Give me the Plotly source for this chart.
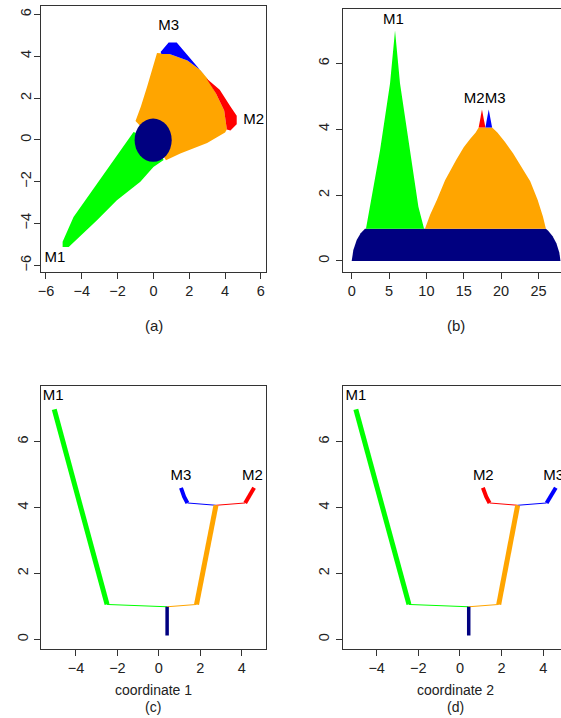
import plotly.graph_objects as go

# ---------------- data ----------------
GREEN, ORANGE, BLUE, RED, NAVY = "#00FF00", "#FFA500", "#0000FF", "#FF0000", "#000080"

# panel (a): regions in the plane
a_green_x = [-5.07, -5.07, -4.46, -3.15, -1.85, -1.11, 0.0, 0.57, 0.0, -0.73, -2.04, -3.15, -4.73]
a_green_y = [-5.12, -4.88, -3.69, -2.09, -0.49, 0.38, 0.0, -0.97, -1.3, -2.01, -2.89, -3.85, -5.12]
a_orange_x = [-1.0, -0.7, -0.35, 0.0, 0.2, 0.9, 1.9, 2.6, 3.0, 3.5, 3.95, 4.1, 4.0, 3.0, 1.5, 0.7, 0.0]
a_orange_y = [0.9, 1.6, 2.55, 3.65, 4.15, 4.1, 3.8, 3.35, 2.95, 2.2, 1.4, 0.5, 0.35, -0.15, -0.65, -0.98, 0.0]
a_blue_x = [0.4, 0.85, 1.3, 1.8, 2.45, 3.0, 2.6, 1.9, 1.4, 0.9, 0.45]
a_blue_y = [4.2, 4.65, 4.65, 4.15, 3.55, 2.95, 3.35, 3.8, 3.95, 4.1, 4.1]
a_red_x = [2.95, 3.7, 4.3, 4.65, 4.65, 4.3, 4.1, 3.95, 3.5]
a_red_y = [2.95, 2.4, 1.6, 1.15, 0.75, 0.45, 0.5, 1.4, 2.2]
a_disk = [-1.05, -1.05, 1.02, 1.02]   # x0, y0, x1, y1
a_labels = ["M1", "M2", "M3"]
a_label_x = [-5.5, 5.6, 0.85]
a_label_y = [-5.65, 0.95, 5.45]

# panel (b): tree mountains
b_navy_x = [0.0, 0.22, 0.67, 1.2, 1.78, 26.0, 26.3, 26.9, 27.4, 27.8, 27.95]
b_navy_y = [0.0, 0.33, 0.64, 0.84, 0.98, 0.98, 0.92, 0.75, 0.54, 0.25, 0.0]
b_green_x = [1.91, 2.46, 3.8, 5.13, 5.8, 6.47, 7.81, 8.93, 9.69]
b_green_y = [0.98, 1.65, 3.37, 5.39, 7.0, 5.39, 3.37, 1.65, 0.98]
b_orange_x = [9.81, 10.5, 11.4, 12.5, 14.0, 15.0, 15.85, 16.6, 17.0, 18.8, 19.5, 20.5, 21.6, 22.7, 23.9, 24.9, 25.6, 26.0]
b_orange_y = [0.98, 1.4, 1.85, 2.45, 3.07, 3.45, 3.7, 3.9, 4.05, 4.05, 3.9, 3.62, 3.27, 2.88, 2.42, 1.85, 1.35, 0.98]
b_red_x = [17.0, 17.44, 17.9]
b_red_y = [4.05, 4.6, 4.05]
b_blue_x = [17.9, 18.34, 18.8]
b_blue_y = [4.05, 4.6, 4.05]
b_labels = ["M1", "M2", "M3"]
b_label_x = [5.6, 16.4, 19.2]
b_label_y = [7.32, 4.9, 4.9]

# panels (c) and (d): tree drawn against a coordinate
c_green_x, c_green_y = [-5.05, -2.5], [6.98, 1.06]
c_greenlink_x, c_greenlink_y = [-2.5, 0.4], [1.06, 0.99]
c_navy_x, c_navy_y = [0.4, 0.4], [0.12, 0.99]
c_orangelink_x, c_orangelink_y = [0.4, 1.82], [0.99, 1.06]
c_orange_x, c_orange_y = [1.82, 2.76], [1.06, 4.07]
c_bluelink_x, c_bluelink_y = [2.76, 1.38], [4.07, 4.14]
c_blue_x, c_blue_y = [1.38, 1.22, 1.07], [4.14, 4.33, 4.6]
c_redlink_x, c_redlink_y = [2.76, 4.17], [4.07, 4.14]
c_red_x, c_red_y = [4.17, 4.6], [4.14, 4.6]
c_labels = ["M1", "M3", "M2"]
c_label_x = [-5.1, 1.07, 4.52]
c_label_y = [7.37, 4.96, 4.96]

d_green_x, d_green_y = [-5.0, -2.45], [6.98, 1.06]
d_greenlink_x, d_greenlink_y = [-2.45, 0.42], [1.06, 0.99]
d_navy_x, d_navy_y = [0.42, 0.42], [0.12, 0.99]
d_orangelink_x, d_orangelink_y = [0.42, 1.86], [0.99, 1.06]
d_orange_x, d_orange_y = [1.86, 2.77], [1.06, 4.07]
d_redlink_x, d_redlink_y = [2.77, 1.42], [4.07, 4.14]
d_red_x, d_red_y = [1.42, 1.26, 1.1], [4.14, 4.33, 4.6]
d_bluelink_x, d_bluelink_y = [2.77, 4.16], [4.07, 4.14]
d_blue_x, d_blue_y = [4.16, 4.6], [4.14, 4.6]
d_labels = ["M1", "M2", "M3"]
d_label_x = [-5.0, 1.12, 4.5]
d_label_y = [7.37, 4.96, 4.96]

a_xticks = [-6, -4, -2, 0, 2, 4, 6]
a_yticks = [-6, -4, -2, 0, 2, 4, 6]
b_xticks = [0, 5, 10, 15, 20, 25]
b_yticks = [0, 2, 4, 6]
cd_xticks = [-4, -2, 0, 2, 4]
cd_yticks = [0, 2, 4, 6]

# ---------------- figure ----------------
FONT = "Liberation Sans, Arial, Helvetica, sans-serif"
fig = go.Figure()


def poly(x, y, color, xa, ya):
    fig.add_trace(go.Scatter(x=x, y=y, fill="toself", fillcolor=color, mode="lines",
                             line=dict(width=0, color=color), hoverinfo="skip",
                             xaxis=xa, yaxis=ya, showlegend=False))


def seg(x, y, color, width, xa, ya):
    fig.add_trace(go.Scatter(x=x, y=y, mode="lines", line=dict(width=width, color=color),
                             hoverinfo="skip", xaxis=xa, yaxis=ya, showlegend=False))


def labels(txt, x, y, xa, ya):
    fig.add_trace(go.Scatter(x=x, y=y, text=txt, mode="text", textposition="middle center",
                             textfont=dict(family=FONT, size=15, color="black"),
                             hoverinfo="skip", xaxis=xa, yaxis=ya, showlegend=False,
                             cliponaxis=False))


# (a)
poly(a_green_x, a_green_y, GREEN, "x", "y")
poly(a_orange_x, a_orange_y, ORANGE, "x", "y")
poly(a_blue_x, a_blue_y, BLUE, "x", "y")
poly(a_red_x, a_red_y, RED, "x", "y")
fig.add_shape(type="circle", xref="x", yref="y", x0=a_disk[0], y0=a_disk[1],
              x1=a_disk[2], y1=a_disk[3], fillcolor=NAVY, line=dict(width=0), layer="above")
labels(a_labels, a_label_x, a_label_y, "x", "y")

# (b)
poly(b_navy_x, b_navy_y, NAVY, "x2", "y2")
poly(b_green_x, b_green_y, GREEN, "x2", "y2")
poly(b_orange_x, b_orange_y, ORANGE, "x2", "y2")
poly(b_red_x, b_red_y, RED, "x2", "y2")
poly(b_blue_x, b_blue_y, BLUE, "x2", "y2")
labels(b_labels, b_label_x, b_label_y, "x2", "y2")

# (c)
seg(c_greenlink_x, c_greenlink_y, GREEN, 1, "x3", "y3")
seg(c_orangelink_x, c_orangelink_y, ORANGE, 1, "x3", "y3")
seg(c_bluelink_x, c_bluelink_y, BLUE, 1, "x3", "y3")
seg(c_redlink_x, c_redlink_y, RED, 1, "x3", "y3")
seg(c_green_x, c_green_y, GREEN, 5, "x3", "y3")
seg(c_orange_x, c_orange_y, ORANGE, 5, "x3", "y3")
seg(c_blue_x, c_blue_y, BLUE, 4, "x3", "y3")
seg(c_red_x, c_red_y, RED, 4, "x3", "y3")
seg(c_navy_x, c_navy_y, NAVY, 3.5, "x3", "y3")
labels(c_labels, c_label_x, c_label_y, "x3", "y3")

# (d)
seg(d_greenlink_x, d_greenlink_y, GREEN, 1, "x4", "y4")
seg(d_orangelink_x, d_orangelink_y, ORANGE, 1, "x4", "y4")
seg(d_redlink_x, d_redlink_y, RED, 1, "x4", "y4")
seg(d_bluelink_x, d_bluelink_y, BLUE, 1, "x4", "y4")
seg(d_green_x, d_green_y, GREEN, 5, "x4", "y4")
seg(d_orange_x, d_orange_y, ORANGE, 5, "x4", "y4")
seg(d_red_x, d_red_y, RED, 4, "x4", "y4")
seg(d_blue_x, d_blue_y, BLUE, 4, "x4", "y4")
seg(d_navy_x, d_navy_y, NAVY, 3.5, "x4", "y4")
labels(d_labels, d_label_x, d_label_y, "x4", "y4")

tickfont = dict(family=FONT, size=14.5, color="#222222")


def xax(dom, rng, ticks, mirror=True):
    return dict(domain=dom, range=rng, tickvals=ticks, ticktext=[str(t).replace("-", "\u2212") for t in ticks],
                showgrid=False, zeroline=False, showline=True, linecolor="#333333", linewidth=1,
                mirror=mirror, ticks="outside", ticklen=6, tickcolor="#333333", tickfont=tickfont,
                automargin=False)


def yax(dom, rng, ticks, anchor, mirror=True, standoff=0):
    d = xax(dom, rng, ticks, mirror)
    d.update(tickangle=-90, anchor=anchor, ticklabelstandoff=standoff)
    return d


fig.update_layout(
    width=561, height=718, margin=dict(l=0, r=0, t=0, b=0),
    paper_bgcolor="white", plot_bgcolor="white", showlegend=False,
    xaxis=dict(xax([0.0736, 0.474], [-6.26, 6.28], a_xticks), anchor="y"),
    yaxis=yax([0.6212, 0.9916], [-6.32, 6.40], a_yticks, "x", standoff=-3),
    xaxis2=dict(xax([0.612, 1.0], [-1.12, 28.02], b_xticks), anchor="y2"),
    yaxis2=yax([0.6216, 0.9875], [-0.325, 7.65], b_yticks, "x2", mirror=False, standoff=2),
    xaxis3=dict(xax([0.0736, 0.4736], [-5.676, 5.16], cd_xticks), anchor="y3"),
    yaxis3=yax([0.0965, 0.4624], [-0.283, 7.69], cd_yticks, "x3"),
    xaxis4=dict(xax([0.612, 1.0], [-5.6, 4.85], cd_xticks), anchor="y4"),
    yaxis4=yax([0.0965, 0.4624], [-0.283, 7.69], cd_yticks, "x4", mirror=False, standoff=2),
)

ann_font = dict(family=FONT, size=15, color="#222222")
sub_font = dict(family=FONT, size=14, color="#222222")
for txt, x, y, f in [("(a)", 0.2745, 1 - 325 / 718, ann_font), ("(b)", 0.812, 1 - 325 / 718, ann_font),
                     ("coordinate 1", 0.2736, 1 - 690 / 718, sub_font), ("(c)", 0.2736, 1 - 707 / 718, sub_font),
                     ("coordinate 2", 0.812, 1 - 690 / 718, sub_font), ("(d)", 0.812, 1 - 707 / 718, sub_font)]:
    fig.add_annotation(text=txt, x=x, y=y, xref="paper", yref="paper", showarrow=False,
                       xanchor="center", yanchor="middle", font=f)

fig.write_html("out.html")
